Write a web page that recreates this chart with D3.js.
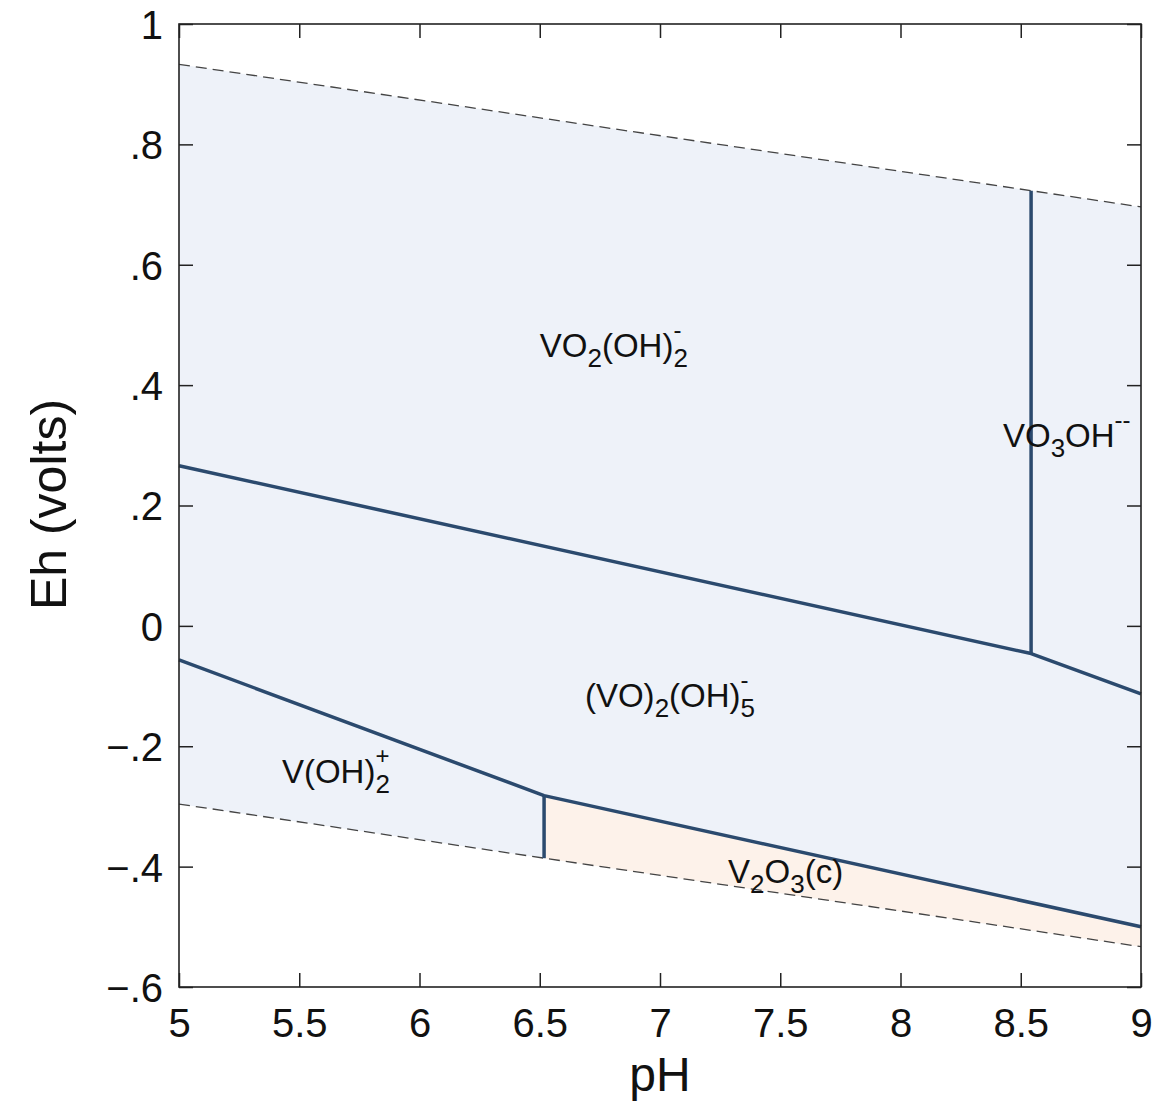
<!DOCTYPE html>
<html>
<head>
<meta charset="utf-8">
<script src="https://cdn.jsdelivr.net/npm/d3@7/dist/d3.min.js"></script>
<style>
  html, body { margin: 0; padding: 0; background: #fff; }
  svg { display: block; font-family: "Liberation Sans", Arial, Helvetica, sans-serif; }
</style>
</head>
<body>
<svg id="chart" width="1154" height="1106"></svg>
<script>
// ---------------- data ----------------
const phDomain = [5, 9];
const ehDomain = [-0.6, 1];
const xTicks = [5, 5.5, 6, 6.5, 7, 7.5, 8, 8.5, 9];
const xTickLabels = ["5", "5.5", "6", "6.5", "7", "7.5", "8", "8.5", "9"];
const yTicks = [-0.6, -0.4, -0.2, 0, 0.2, 0.4, 0.6, 0.8, 1];
const yTickLabels = ["\u2212.6", "\u2212.4", "\u2212.2", "0", ".2", ".4", ".6", ".8", "1"];

// water stability limits (dashed)
const upperWater = [[5, 0.933], [9, 0.696]];
const lowerWater = [[5, -0.296], [9, -0.533]];

// predominance boundaries (solid)
const boundaryUpper = [[5, 0.266], [8.543, -0.046], [9, -0.113]];
const boundaryVO3OH = [[8.543, -0.046], [8.543, 0.723]];
const boundaryLower = [[5, -0.0565], [6.518, -0.282], [9, -0.500]];
const boundaryV2O3 = [[6.518, -0.282], [6.518, -0.386]];

// fields
const aqueousField = [[5, 0.933], [9, 0.696], [9, -0.533], [5, -0.296]];
const solidField = [[6.518, -0.282], [9, -0.500], [9, -0.533], [6.518, -0.386]];

// species labels (position in pH / Eh, parts)
const labelPH = [6.50, 8.426, 6.688, 5.428, 7.283];
const labelEh = [0.447, 0.297, -0.135, -0.261, -0.427];
const labelParts = [
  [{t: "VO"}, {t: "2", sub: true}, {t: "(OH)"}, {t: "2", sub: true, sup: "-"}],
  [{t: "VO"}, {t: "3", sub: true}, {t: "OH"}, {sup: "--"}],
  [{t: "(VO)"}, {t: "2", sub: true}, {t: "(OH)"}, {t: "5", sub: true, sup: "-"}],
  [{t: "V(OH)"}, {t: "2", sub: true, sup: "+"}],
  [{t: "V"}, {t: "2", sub: true}, {t: "O"}, {t: "3", sub: true}, {t: "(c)"}]
];

// ---------------- chart ----------------
const svg = d3.select("#chart");
const mLeft = 179, mRight = 1141, mTop = 24, mBottom = 987;
const x = d3.scaleLinear().domain(phDomain).range([mLeft, mRight]);
const y = d3.scaleLinear().domain(ehDomain).range([mBottom, mTop]);

const line = d3.line().x(d => x(d[0])).y(d => y(d[1]));
const area = d3.line().x(d => x(d[0])).y(d => y(d[1])).curve(d3.curveLinearClosed);

const navy = "#2b4a6e";

svg.append("path").attr("d", area(aqueousField)).attr("fill", "#eef2f9");
svg.append("path").attr("d", area(solidField)).attr("fill", "#fdf2ea");

[upperWater, lowerWater].forEach(l => {
  svg.append("path").attr("d", line(l)).attr("fill", "none")
    .attr("stroke", "#444").attr("stroke-width", 1.3).attr("stroke-dasharray", "11,6");
});

[boundaryUpper, boundaryVO3OH, boundaryLower, boundaryV2O3].forEach(l => {
  svg.append("path").attr("d", line(l)).attr("fill", "none")
    .attr("stroke", navy).attr("stroke-width", 3.5).attr("stroke-linejoin", "round");
});

// axes (inward ticks on all four sides)
const tickLen = 14;
const axB = svg.append("g").attr("transform", `translate(0,${mBottom})`)
  .call(d3.axisBottom(x).tickValues(xTicks).tickSizeInner(-tickLen).tickSizeOuter(0).tickPadding(22)
    .tickFormat((d, i) => xTickLabels[i]));
const axT = svg.append("g").attr("transform", `translate(0,${mTop})`)
  .call(d3.axisTop(x).tickValues(xTicks).tickSizeInner(-tickLen).tickSizeOuter(0).tickFormat(""));
const axL = svg.append("g").attr("transform", `translate(${mLeft},0)`)
  .call(d3.axisLeft(y).tickValues(yTicks).tickSizeInner(-tickLen).tickSizeOuter(0).tickPadding(16)
    .tickFormat((d, i) => yTickLabels[i]));
const axR = svg.append("g").attr("transform", `translate(${mRight},0)`)
  .call(d3.axisRight(y).tickValues(yTicks).tickSizeInner(-tickLen).tickSizeOuter(0).tickFormat(""));

[axB, axT, axL, axR].forEach(a => {
  a.select(".domain").remove();
  a.selectAll(".tick line").attr("stroke", "#222").attr("stroke-width", 1.5);
  a.selectAll("text").attr("fill", "#111").style("font-size", "40px")
    .style("font-family", "'Liberation Sans', Arial, sans-serif");
});
axL.selectAll("text").attr("dy", "0.36em");

// frame
svg.append("rect").attr("x", mLeft).attr("y", mTop).attr("width", mRight - mLeft).attr("height", mBottom - mTop)
  .attr("fill", "none").attr("stroke", "#222").attr("stroke-width", 1.6);

// axis titles
svg.append("text").attr("x", (mLeft + mRight) / 2).attr("y", 1091).attr("text-anchor", "middle")
  .style("font-size", "48px").attr("fill", "#111").text("pH");
svg.append("text").attr("transform", `translate(66,${(mTop + mBottom) / 2 - 1}) rotate(-90)`)
  .attr("text-anchor", "middle").style("font-size", "50px").attr("fill", "#111").text("Eh (volts)");

// species labels: each label is one text element built from tspans
const mainSize = 33, subSize = 26, supSize = 24, subDy = 10, supDy = 19;
const lg = svg.append("g").attr("fill", "#111");
labelParts.forEach((parts, i) => {
  const x0 = x(labelPH[i]);
  const by = y(labelEh[i]);
  const text = lg.append("text").attr("x", x0).attr("y", by);
  let cx = x0;
  parts.forEach(p => {
    const startX = cx;
    if (p.t) {
      const ts = text.append("tspan").attr("x", cx).attr("y", p.sub ? by + subDy : by)
        .style("font-size", (p.sub ? subSize : mainSize) + "px").text(p.t);
      cx += ts.node().getComputedTextLength();
    }
    if (p.sup) {
      text.append("tspan").attr("x", startX).attr("y", by - supDy)
        .style("font-size", supSize + "px").text(p.sup);
    }
  });
});
</script>
</body>
</html>
